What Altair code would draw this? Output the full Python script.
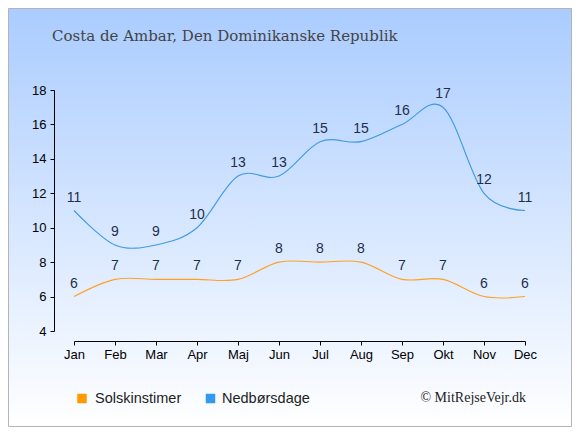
import altair as alt
import pandas as pd

months = ["Jan", "Feb", "Mar", "Apr", "Maj", "Jun", "Jul", "Aug", "Sep", "Okt", "Nov", "Dec"]
sun = [6, 7, 7, 7, 7, 8, 8, 8, 7, 7, 6, 6]
rain = [11, 9, 9, 10, 13, 13, 15, 15, 16, 17, 12, 11]
series = ["Solskinstimer", "Nedbørsdage"]
line_colors = ["#ffa020", "#3f99e6"]
legend_colors = ["#ff9900", "#3399ee"]
title_text = "Costa de Ambar, Den Dominikanske Republik"
credit_text = "© MitRejseVejr.dk"
y_ticks = [4, 6, 8, 10, 12, 14, 16, 18]

df = pd.DataFrame({
    "month": months * 2,
    "value": sun + rain,
    "series": [series[0]] * len(months) + [series[1]] * len(months),
})

W, H = 451, 241
PL, PT, PR, PB = 66, 82, 47, 96

one = pd.DataFrame({"a": [0]})

bg = alt.Chart(one).mark_rect(
    fill=alt.Gradient(
        gradient="linear",
        stops=[alt.GradientStop(color="#aaccff", offset=0),
               alt.GradientStop(color="#ffffff", offset=1)],
        x1=0, x2=0, y1=0, y2=1,
    ),
    stroke="#b4b4b4", strokeWidth=1,
).encode(
    x=alt.value(-PL + 0.5), x2=alt.value(W + PR - 0.5),
    y=alt.value(-PT + 0.5), y2=alt.value(H + PB - 0.5),
)

xenc = alt.X(
    "month:N", sort=months,
    scale=alt.Scale(type="point", padding=0),
    axis=alt.Axis(title=None, offset=10, labelAngle=0, domainColor="#000", tickColor="#000",
                  tickSize=4, labelFont="Liberation Sans", labelFontSize=13,
                  labelColor="#000", labelPadding=3, labelOverlap=False, zindex=2),
)
yenc = alt.Y(
    "value:Q",
    scale=alt.Scale(domain=[4, 18], nice=False, zero=False),
    axis=alt.Axis(title=None, offset=20, values=y_ticks, grid=False, domainColor="#000",
                  tickColor="#000", tickSize=4, labelFont="Liberation Sans",
                  labelFontSize=13, labelColor="#000", labelPadding=4,
                  labelOverlap=False, zindex=2),
)
cenc = alt.Color("series:N", scale=alt.Scale(domain=series, range=line_colors), legend=None)

lines = alt.Chart(df).mark_line(interpolate="cardinal", strokeWidth=1.1).encode(
    x=xenc, y=yenc, color=cenc, detail="series:N"
)
labels = alt.Chart(df).mark_text(
    dy=-13, fontSize=14, font="Liberation Sans", color="#1f2e4d", baseline="middle"
).encode(
    x=xenc, y=yenc, text="value:Q"
)

title = alt.Chart(pd.DataFrame({"t": [title_text]})).mark_text(
    align="left", baseline="middle", font="DejaVu Serif", fontSize=15, color="#444444"
).encode(x=alt.value(-22), y=alt.value(-54), text="t:N")

credit = alt.Chart(pd.DataFrame({"t": [credit_text]})).mark_text(
    align="right", baseline="middle", font="Liberation Serif", fontSize=14, color="#222222"
).encode(x=alt.value(452), y=alt.value(308), text="t:N")

legend_layers = []
sq_x = [8, 136.5]
tx_x = [21, 148]
for i, name in enumerate(series):
    d = pd.DataFrame({"name": [name]})
    legend_layers.append(
        alt.Chart(d).mark_square(size=90, opacity=1, color=legend_colors[i]).encode(
            x=alt.value(sq_x[i]), y=alt.value(308.5)
        )
    )
    legend_layers.append(
        alt.Chart(d).mark_text(
            align="left", baseline="middle", font="Liberation Sans", fontSize=14.5, color="#222222"
        ).encode(x=alt.value(tx_x[i]), y=alt.value(309), text="name:N")
    )

chart = alt.layer(bg, lines, labels, title, credit, *legend_layers).properties(
    width=W, height=H,
    autosize=alt.AutoSizeParams(type="none"),
    padding={"left": PL, "top": PT, "right": PR, "bottom": PB},
).configure_view(stroke=None)

chart.save("out.html", embed_options={"renderer": "svg", "actions": False})
